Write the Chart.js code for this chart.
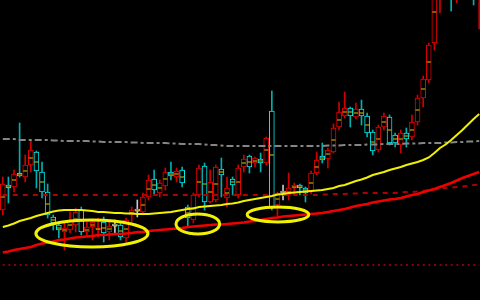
<!DOCTYPE html>
<html>
<head>
<meta charset="utf-8">
<script src="https://cdn.jsdelivr.net/npm/chart.js@4"></script>
<style>
  html, body { margin: 0; padding: 0; background: #000; overflow: hidden; width: 480px; height: 300px; }
  #wrap { position: relative; width: 482px; height: 300px; }
</style>
</head>
<body>
<div id="wrap"><canvas id="kline" width="482" height="300"></canvas></div>
<script>
// K-line data (price units, 0 = bottom edge, 300 = top edge)
const openP = [90,115,113,127,123,135,148,128,108,83, 75,68,70,75,90,68,73,70,78,68,
  74,75,62,85,89,88,103,121,107,114, 128,123,130,93,80,105,134,98,100,131,
  102,121,105,133,144,137,141,137,189,95, 107,105,112,115,112,108,127,144,141,148,
  173,184,192,183,191,184,168,150,173,183, 165,155,167,163,178,202,220,257,310,340,
  360,320,350,370,380,310];
const closeP = [116,112,126,124,135,150,129,108,85,77, 70,72,80,88,68,73,78,72,67,74,
  74,63,80,90,89,103,120,110,117,128, 124,129,117,82,105,132,98,118,133,125,
  112,115,132,141,133,142,137,162,93,107, 107,112,115,112,107,127,140,140,150,172,
  188,192,184,191,184,167,149,173,184,157, 157,167,161,178,202,221,255,330,350,360,
  320,350,370,360,340,360];
const highP = [123,123,130,177,145,160,149,138,116,85, 78,78,88,92,93,78,80,82,83,78,
  80,78,82,93,100,107,125,130,120,132, 138,132,133,95,107,135,137,130,135,142,
  123,123,135,145,145,143,147,163,209,108, 115,127,117,116,113,129,148,157,152,176,
  198,208,193,197,200,187,170,175,187,185, 167,170,172,185,205,224,257,340,360,365,
  370,360,380,385,390,380];
const lowP = [85,97,108,123,118,128,112,102,82,70, 62,50,67,68,65,63,60,63,58,60,
  66,60,58,78,83,85,100,105,103,110, 120,118,113,73,77,103,90,97,98,103,
  93,105,102,128,127,133,128,135,90,83, 100,100,105,105,98,106,125,137,132,147,
  170,182,173,181,175,163,145,148,170,155, 153,147,153,160,175,193,217,250,287,305,
  289,297,330,340,295,271];
// average-price tick inside each candle
const avgP = [103,113,120,126,129,142,138,118,96,80, 72,70,75,81,79,70,75,71,72,71,
  74,69,71,87,89,95,111,115,112,121, 126,126,123,87,92,118,116,108,116,128,
  107,118,118,137,138,139,139,150,145,101, 107,108,113,113,110,117,133,142,146,160,
  180,188,188,187,187,175,158,161,178,170, 161,161,164,170,190,211,238,288,330,350,
  340,335,360,365,360,335];

// moving averages
const maYellow = [73,74.5,76.5,79,80.5,82,84,85.5,87,88.5, 89.5,90,90,90,90,89.5,89,88,88,87.5,
  87,87,86.5,86.5,86,86,86,86.5,87,87.5, 88,89,90,91,91.5,93,93.5,94,94.5,95,
  96,96.5,97.5,99,100,101,102,103,104,105.5, 106,107,107.5,108,108.5,109,109.5,110,111,112,
  114,115,117,119,120.5,122.5,125,126.5,128,130, 131.5,133,135,136.5,138,140,142.5,147,152,155.5,
  160,165,170,175.5,181,186];
const maRed = [47.5,48.5,50,51,52,53,55,56.5,57.5,58.5, 60,60.5,61.5,62.5,63,63.5,64,65,65,65.5,
  66,66,66.5,67,68,68,69,69.5,70,70.5, 71,71.5,72,73,73.5,74,74.5,75,75.5,75.5,
  76,76.5,77,77.5,78.5,79,80,81,82,82.5, 83.5,84,84.5,85,85.5,86,86.5,87,88,89,
  90,91,92.5,94,95,96,97.5,98.5,99.5,100.5, 101,102,103.5,105,106,108,109.5,111,113,115,
  117,119.5,122,124,126,128];
const maGray = [161,161,161,160,160,160,160,160,160,159.5, 159.5,159,159,159,159,159,158.5,158.5,158,158,
  158,158,158,157.5,157.5,157,157,157,157,157, 156.5,156.5,156,156,156,156,155.5,155,155,154.5,
  154,154,154,154,154,154,154,154,154,154, 154,154,154,154,154,154,154,154,154.5,154.5,
  154.5,155,155,155,155,155.5,155.5,155.5,156,156, 156,156,156.5,156.5,156.5,157,157,157,157,157.5,
  157.5,158,158,158.5,158.5,159];
const maDarkRed = [105,105,105,105,105,105,105,105,105,105, 105,105,105,105,105,105,105,105,105,105,
  105,105,105,105,105,105,105,105,105,105, 105,105,105,105,105,105,105,105,105,105,
  105,105,105,105,105,105,105,105,105,105, 105,105,105,105,105,105,105,105.5,105.5,106,
  106,106,106.5,106.5,107,107,107,107,107,107, 107,107.5,108,108,108.5,109,110,110.5,111,112,
  112.5,113,113.5,114,115,115.5];
const floorLevel = 35;

// markers and highlighted zones
const greenMarks = [{ x: 21, y: 66 }];
const zones = [
  { idx: 15.9, price: 66.5, rIdx: 10, rPrice: 13.5 },
  { idx: 34.8, price: 76, rIdx: 3.9, rPrice: 10 },
  { idx: 49.1, price: 85.5, rIdx: 5.5, rPrice: 7.5 }
];

const labels = openP.map((_, i) => i);

function candleColor(i, up, down, flat) {
  if (closeP[i] > openP[i]) return up;
  if (closeP[i] < openP[i]) return down;
  return flat;
}
const bodyColors = labels.map(i => candleColor(i, '#e80000', '#00ecec', '#b8b8b8'));
const wickColors = labels.map(i => candleColor(i, '#d00000', '#00b0b0', '#c8c8c8'));

const ellipsePlugin = {
  id: 'zones',
  afterDatasetsDraw(chart) {
    const { ctx, scales: { x, y } } = chart;
    ctx.save();
    ctx.strokeStyle = '#f2f200';
    ctx.lineWidth = 3;
    zones.forEach(z => {
      const cx = x.getPixelForValue(z.idx);
      const cy = y.getPixelForValue(z.price);
      const rx = Math.abs(x.getPixelForValue(z.idx + z.rIdx) - cx);
      const ry = Math.abs(y.getPixelForValue(z.price + z.rPrice) - cy);
      ctx.beginPath();
      ctx.ellipse(cx, cy, rx, ry, 0, 0, Math.PI * 2);
      ctx.stroke();
    });
    ctx.restore();
  }
};

const lineDs = (data, color, width, dash) => ({
  type: 'line', data, borderColor: color, borderWidth: width, borderDash: dash || [],
  pointRadius: 0, tension: 0, fill: false, order: 0
});

new Chart(document.getElementById('kline'), {
  type: 'bar',
  data: {
    labels,
    datasets: [
      lineDs(maYellow, '#f0f000', 2),
      lineDs(maRed, '#f00000', 2.5),
      lineDs(maGray, '#858585', 2, [7, 3, 3, 3]),
      lineDs(maDarkRed, '#b00000', 2, [5, 5]),
      lineDs(labels.map(() => floorLevel), '#8a0000', 2, [2, 3.6]),
      {
        type: 'line', data: avgP, showLine: false, pointStyle: 'line',
        pointRadius: 2, borderColor: '#e6c800', borderWidth: 1, order: 0
      },
      {
        type: 'line', data: greenMarks, showLine: false, pointStyle: 'line',
        pointRadius: 4, borderColor: '#00e000', borderWidth: 2, order: 0
      },
      {
        data: labels.map(i => [openP[i], closeP[i]]),
        backgroundColor: '#000', borderColor: bodyColors, borderWidth: 1,
        borderSkipped: false, barThickness: 5, minBarLength: 2, grouped: false, order: 1
      },
      {
        data: labels.map(i => [lowP[i], highP[i]]),
        backgroundColor: wickColors, borderWidth: 0,
        barThickness: 1, grouped: false, order: 2
      }
    ]
  },
  options: {
    responsive: false,
    animation: false,
    events: [],
    layout: { padding: 0, autoPadding: false },
    plugins: { legend: { display: false }, tooltip: { enabled: false } },
    scales: {
      x: { display: false, offset: true },
      y: { display: false, min: 0, max: 300 }
    }
  },
  plugins: [ellipsePlugin]
});
</script>
</body>
</html>
